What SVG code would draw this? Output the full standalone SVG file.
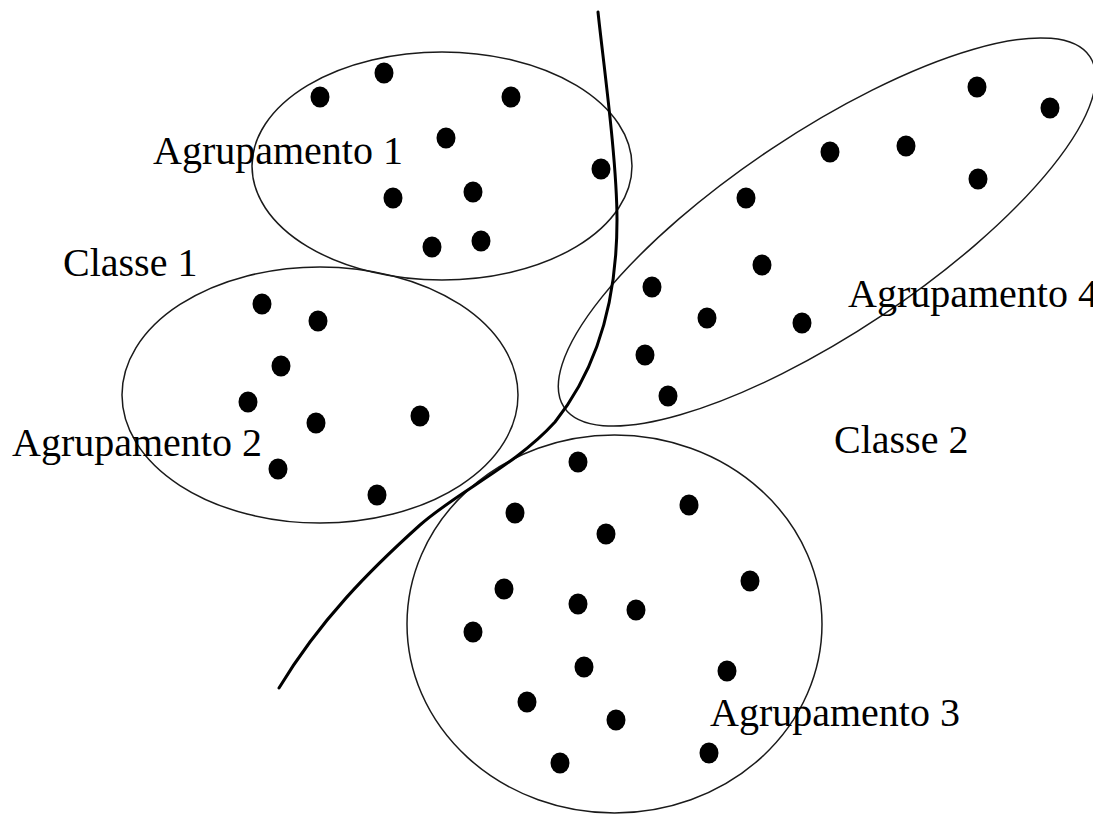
<svg xmlns="http://www.w3.org/2000/svg" width="1093" height="816" viewBox="0 0 1093 816">
<style>
.cl{fill:none;stroke:#1a1a1a;stroke-width:1.5}
.pt{fill:#000}
.lb{font-family:"Liberation Serif","Times New Roman",serif;font-size:40px;fill:#000}
.sep{fill:none;stroke:#000;stroke-width:3;stroke-linecap:round}
</style>
<rect width="1093" height="816" fill="#fff"/>
<g id="agrupamento1">
<ellipse class="cl" cx="442" cy="166" rx="190" ry="114"/>
<ellipse class="pt" cx="320" cy="97" rx="9.5" ry="10.5"/>
<ellipse class="pt" cx="384" cy="73" rx="9.5" ry="10.5"/>
<ellipse class="pt" cx="511" cy="97" rx="9.5" ry="10.5"/>
<ellipse class="pt" cx="446" cy="138" rx="9.5" ry="10.5"/>
<ellipse class="pt" cx="601" cy="169" rx="9.5" ry="10.5"/>
<ellipse class="pt" cx="393" cy="198" rx="9.5" ry="10.5"/>
<ellipse class="pt" cx="473" cy="192" rx="9.5" ry="10.5"/>
<ellipse class="pt" cx="432" cy="247" rx="9.5" ry="10.5"/>
<ellipse class="pt" cx="481" cy="241" rx="9.5" ry="10.5"/>
<text class="lb" x="153" y="164">Agrupamento 1</text>
</g>
<g id="agrupamento2">
<ellipse class="cl" cx="320" cy="395" rx="198" ry="128"/>
<ellipse class="pt" cx="262" cy="304" rx="9.5" ry="10.5"/>
<ellipse class="pt" cx="318" cy="321" rx="9.5" ry="10.5"/>
<ellipse class="pt" cx="281" cy="366" rx="9.5" ry="10.5"/>
<ellipse class="pt" cx="248" cy="402" rx="9.5" ry="10.5"/>
<ellipse class="pt" cx="316" cy="423" rx="9.5" ry="10.5"/>
<ellipse class="pt" cx="420" cy="416" rx="9.5" ry="10.5"/>
<ellipse class="pt" cx="278" cy="469" rx="9.5" ry="10.5"/>
<ellipse class="pt" cx="377" cy="495" rx="9.5" ry="10.5"/>
<text class="lb" x="12" y="456">Agrupamento 2</text>
</g>
<g id="agrupamento3">
<ellipse class="cl" cx="614.5" cy="624" rx="207.5" ry="189"/>
<ellipse class="pt" cx="578" cy="462" rx="9.5" ry="10.5"/>
<ellipse class="pt" cx="515" cy="513" rx="9.5" ry="10.5"/>
<ellipse class="pt" cx="689" cy="505" rx="9.5" ry="10.5"/>
<ellipse class="pt" cx="606" cy="534" rx="9.5" ry="10.5"/>
<ellipse class="pt" cx="504" cy="589" rx="9.5" ry="10.5"/>
<ellipse class="pt" cx="578" cy="604" rx="9.5" ry="10.5"/>
<ellipse class="pt" cx="636" cy="610" rx="9.5" ry="10.5"/>
<ellipse class="pt" cx="750" cy="581" rx="9.5" ry="10.5"/>
<ellipse class="pt" cx="473" cy="632" rx="9.5" ry="10.5"/>
<ellipse class="pt" cx="584" cy="667" rx="9.5" ry="10.5"/>
<ellipse class="pt" cx="727" cy="671" rx="9.5" ry="10.5"/>
<ellipse class="pt" cx="527" cy="702" rx="9.5" ry="10.5"/>
<ellipse class="pt" cx="616" cy="720" rx="9.5" ry="10.5"/>
<ellipse class="pt" cx="560" cy="763" rx="9.5" ry="10.5"/>
<ellipse class="pt" cx="709" cy="753" rx="9.5" ry="10.5"/>
<text class="lb" x="710" y="726">Agrupamento 3</text>
</g>
<g id="agrupamento4">
<ellipse class="cl" cx="827" cy="232" rx="316" ry="100" transform="rotate(-33.7 827 232)"/>
<ellipse class="pt" cx="977" cy="87" rx="9.5" ry="10.5"/>
<ellipse class="pt" cx="1050" cy="108" rx="9.5" ry="10.5"/>
<ellipse class="pt" cx="830" cy="152" rx="9.5" ry="10.5"/>
<ellipse class="pt" cx="906" cy="146" rx="9.5" ry="10.5"/>
<ellipse class="pt" cx="978" cy="179" rx="9.5" ry="10.5"/>
<ellipse class="pt" cx="746" cy="198" rx="9.5" ry="10.5"/>
<ellipse class="pt" cx="762" cy="265" rx="9.5" ry="10.5"/>
<ellipse class="pt" cx="652" cy="287" rx="9.5" ry="10.5"/>
<ellipse class="pt" cx="707" cy="318" rx="9.5" ry="10.5"/>
<ellipse class="pt" cx="802" cy="323" rx="9.5" ry="10.5"/>
<ellipse class="pt" cx="645" cy="355" rx="9.5" ry="10.5"/>
<ellipse class="pt" cx="668" cy="396" rx="9.5" ry="10.5"/>
<text class="lb" x="848" y="307">Agrupamento 4</text>
</g>
<g id="classe1"><text class="lb" x="63" y="276">Classe 1</text></g>
<g id="classe2"><text class="lb" x="834" y="453">Classe 2</text></g>
<g id="connectors">
<path class="sep" d="M598,12 C603,60 617,160 617,220 C617,300 598,368 555,422 C515,466 460,490 420,525 C370,570 320,620 279,688"/>
</g>
</svg>
